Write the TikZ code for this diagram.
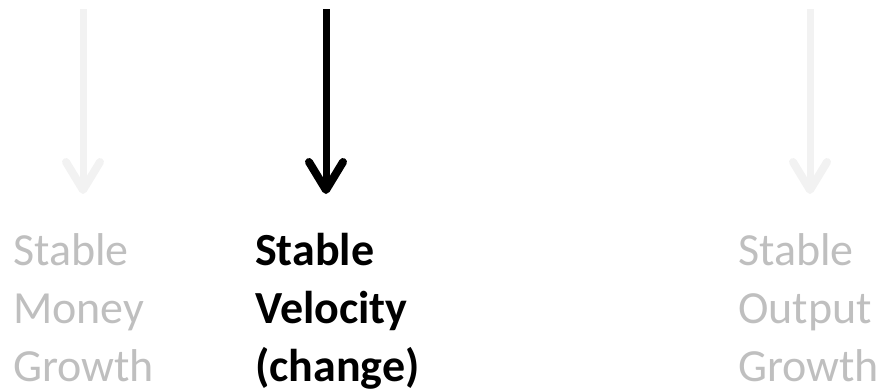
\documentclass[tikz,border=0pt]{standalone}
\usepackage{fontspec}
\setmainfont{Carlito}
\usepackage{tikz}
\usetikzlibrary{arrows.meta, positioning}
\usepackage{xcolor}
\definecolor{QTMFaint}{HTML}{F2F2F2}
\definecolor{QTMGrey}{HTML}{BFBFBF}
\definecolor{QTMBlack}{HTML}{000000}
\tikzset{
    term/.style={
        anchor=base west,
        text=#1,
        font=\fontsize{46}{58}\selectfont,
        align=left,
        inner sep=0pt
    },
    term/.default=QTMGrey,
    keyterm/.style={
        term=QTMBlack,
        font=\fontsize{46}{58}\selectfont\bfseries
    },
    flow/.style={
        -{Straight Barb[length=28pt, width=34pt, line width=8pt, round]},
        line width=7pt,
        #1
    },
    flow/.default=QTMFaint
}

\begin{document}
\begin{tikzpicture}[x=1pt, y=-1pt]
                \useasboundingbox (0,0) rectangle (888,391);

                % last line sits on the base anchor
                \node[term] (money) at (13,381) {Stable\\Money\\Growth};
                \node[keyterm] (velocity) at (255,381) {Stable\\Velocity\\(change)};
                \node[term] (output) at (738,381) {Stable\\Output\\Growth};

                \coordinate (money0) at (83,9);
                \coordinate (money1) at (83,194);
                \coordinate (velocity0) at (326,9);
                \coordinate (velocity1) at (326,194);
                \coordinate (output0) at (810,9);
                \coordinate (output1) at (810,194);

                \draw[flow] (money0) -- (money1);
                \draw[flow=QTMBlack] (velocity0) -- (velocity1);
                \draw[flow] (output0) -- (output1);
            \end{tikzpicture}
\end{document}
